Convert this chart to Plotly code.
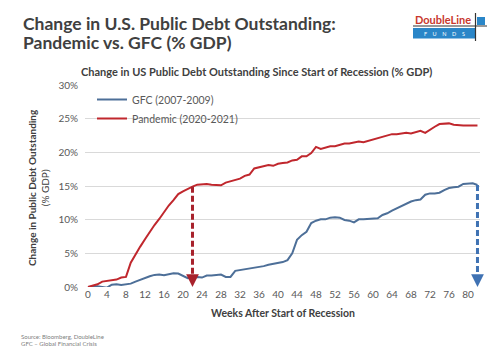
import plotly.graph_objects as go

weeks = list(range(0, 83))

pandemic = [0.0, 0.2, 0.4, 0.8, 0.9, 1.1, 1.1, 1.4, 1.5, 3.6,
            4.9, 6.0, 7.1, 8.2, 9.2, 10.1, 11.2, 12.1, 12.9, 13.8,
            14.2, 14.6, 14.9, 15.2, 15.3, 15.3, 15.2, 15.1, 15.1, 15.5,
            15.7, 16.0, 16.1, 16.5, 16.7, 17.6, 17.8, 18.0, 18.1, 18.0,
            18.3, 18.4, 18.5, 18.8, 18.9, 19.4, 19.4, 19.9, 20.8, 20.5,
            20.7, 20.9, 20.9, 21.1, 21.3, 21.3, 21.5, 21.6, 21.5, 21.7,
            21.9, 22.0, 22.3, 22.5, 22.7, 22.7, 22.8, 22.9, 22.8, 23.0,
            23.2, 22.9, 23.4, 23.8, 24.2, 24.2, 24.3, 24.1, 24.0, 24.0,
            24.0, 24.0, 24.0]

gfc = [0.0, 0.05, 0.1, 0.0, -0.1, 0.35, 0.4, 0.3, 0.35, 0.5,
       0.8, 1.1, 1.3, 1.6, 1.8, 1.85, 1.75, 1.85, 2.05, 2.0,
       1.6, 1.3, 1.4, 1.5, 1.4, 1.7, 1.7, 1.8, 1.85, 1.5,
       1.5, 2.4, 2.5, 2.6, 2.8, 2.85, 2.95, 3.1, 3.3, 3.45,
       3.6, 3.7, 4.0, 5.0, 7.0, 7.7, 8.2, 9.5, 9.85, 10.05,
       10.05, 10.3, 10.35, 10.3, 9.95, 9.85, 9.6, 10.05, 10.05, 10.1,
       10.1, 10.2, 10.7, 10.95, 11.35, 11.7, 12.0, 12.4, 12.7, 12.9,
       13.0, 13.7, 13.9, 13.9, 14.0, 14.4, 14.7, 14.8, 14.9, 15.3,
       15.3, 15.4, 15.15]

x_ticks = list(range(0, 81, 4))
y_ticks = [0, 5, 10, 15, 20, 25, 30]
y_tick_labels = ["0%", "5%", "10%", "15%", "20%", "25%", "30%"]

red_arrow_week = 22
red_arrow_top = 14.9
blue_arrow_week = 82
blue_arrow_top = 15.15

RED = "#C0272D"
BLUE = "#4D6F98"
RED_ARROW = "#A8222C"
BLUE_ARROW = "#3F72B3"
FONT = "Lato"

W, H = 500, 352
L, R, T, B = 85, 20, 85, 65
PW, PH = W - L - R, H - T - B


def px(xp):
    return (xp - L) / PW


def py(yp):
    return (H - B - yp) / PH


fig = go.Figure()

fig.add_trace(go.Scatter(x=weeks, y=gfc, mode="lines", name="GFC (2007-2009)",
                         line=dict(color=BLUE, width=2), legendgroup="a"))
fig.add_trace(go.Scatter(x=weeks, y=pandemic, mode="lines", name="Pandemic (2020-2021)",
                         line=dict(color=RED, width=2), legendgroup="b"))

# dashed arrow shafts
fig.add_trace(go.Scatter(x=[red_arrow_week, red_arrow_week], y=[red_arrow_top, 1.0],
                         mode="lines", showlegend=False, hoverinfo="skip",
                         line=dict(color=RED_ARROW, width=3, dash="6px,3px")))
fig.add_trace(go.Scatter(x=[blue_arrow_week, blue_arrow_week], y=[blue_arrow_top, 1.0],
                         mode="lines", showlegend=False, hoverinfo="skip",
                         line=dict(color=BLUE_ARROW, width=3, dash="6px,3px")))

annotations = []
for xw, col in [(red_arrow_week, RED_ARROW), (blue_arrow_week, BLUE_ARROW)]:
    annotations.append(dict(x=xw, y=0, ax=xw, ay=1.2, xref="x", yref="y",
                            axref="x", ayref="y", showarrow=True, arrowhead=2,
                            arrowsize=0.85, arrowwidth=3, arrowcolor=col, text=""))

def ann(text, x, y, size, color="#404040", xanchor="center", yanchor="middle", **kw):
    d = dict(text=text, x=px(x), y=py(y), xref="paper", yref="paper", showarrow=False,
             xanchor=xanchor, yanchor=yanchor,
             font=dict(family=FONT, size=size, color=color))
    d.update(kw)
    annotations.append(d)

ann("<b>Change in U.S. Public Debt Outstanding:</b>", 21, 24, 17.5, xanchor="left")
ann("<b>Pandemic vs. GFC (% GDP)</b>", 21, 42, 17.5, xanchor="left")
ann("<b>Change in US Public Debt Outstanding Since Start of Recession (% GDP)</b>", 256, 72, 11)
ann("<b>Weeks After Start of Recession</b>", 283, 313, 10.5)
ann("<b>Change in Public Debt Outstanding</b><br>(% GDP)", 38, 188, 10, textangle=-90)
ann("Source: Bloomberg, DoubleLine", 19, 336, 6, color="#808080", xanchor="left")
ann("GFC – Global Financial Crisis", 19, 343.5, 6, color="#808080", xanchor="left")

# logo
ann("<b>DoubleLine</b>", 443, 20, 11, color="#C8372D", xanchor="center")
ann("F    U    N    D    S", 444, 33.5, 5.5, color="white", xanchor="center")

shapes = []
def rect(x0, y0, x1, y1, color):
    shapes.append(dict(type="rect", xref="paper", yref="paper", x0=px(x0), x1=px(x1),
                       y0=py(y1), y1=py(y0), fillcolor=color, line=dict(width=0)))
def line(x0, y0, x1, y1, color, w=1.2):
    shapes.append(dict(type="line", xref="paper", yref="paper", x0=px(x0), x1=px(x1),
                       y0=py(y0), y1=py(y1), line=dict(color=color, width=w)))

rect(413, 28, 475, 38.5, "#2A86C8")
rect(477, 17, 485, 25, "#2A86C8")
line(413, 26, 487, 26, "#333333")
line(475.5, 13, 475.5, 41, "#333333")

fig.update_layout(
    width=W, height=H,
    margin=dict(l=L, r=R, t=T, b=B),
    paper_bgcolor="white", plot_bgcolor="white",
    font=dict(family=FONT, size=10, color="#595959"),
    showlegend=True,
    legend=dict(x=px(92), y=py(85), xanchor="left", yanchor="top",
                bgcolor="rgba(0,0,0,0)", font=dict(family=FONT, size=10.5, color="#595959"),
                tracegroupgap=0),
    xaxis=dict(range=[-0.63, 82.53], tickvals=x_ticks, showgrid=False, zeroline=False,
               showline=False, ticks="", tickfont=dict(size=10, color="#595959")),
    yaxis=dict(range=[0, 30], tickvals=y_ticks, ticktext=y_tick_labels, showgrid=True,
               gridcolor="#D9D9D9", gridwidth=1, zeroline=False, showline=False, ticks="",
               ticklabelstandoff=6, tickfont=dict(size=10, color="#595959")),
    annotations=annotations,
    shapes=shapes,
)

fig.write_html("out.html")
